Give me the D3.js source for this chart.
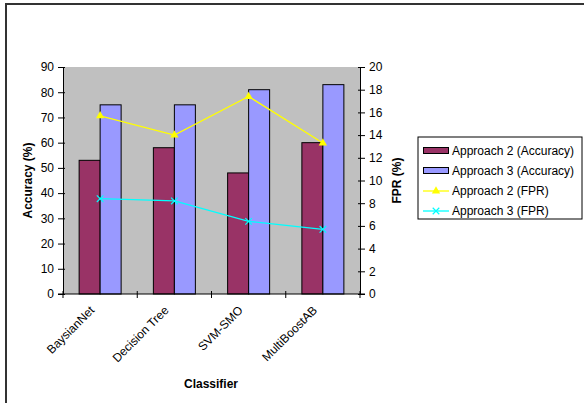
<!DOCTYPE html>
<html>
<head>
<meta charset="utf-8">
<script src="https://cdn.jsdelivr.net/npm/d3@7"></script>
<style>
  html, body { margin: 0; padding: 0; background: #fff; }
  svg { display: block; font-family: "Liberation Sans", Arial, sans-serif; }
</style>
</head>
<body>
<svg id="chart" width="584" height="403"></svg>
<script>
// Classifier comparison: accuracy bars (left axis) and FPR lines (right axis)
const categories = ["BaysianNet", "Decision Tree", "SVM-SMO", "MultiBoostAB"];
const accuracyA2 = [53, 58, 48, 60];
const accuracyA3 = [75, 75, 81, 83];
const fprA2 = [15.7, 14.0, 17.4, 13.3];
const fprA3 = [8.4, 8.2, 6.4, 5.7];
const accTicks = [0, 10, 20, 30, 40, 50, 60, 70, 80, 90];
const fprTicks = [0, 2, 4, 6, 8, 10, 12, 14, 16, 18, 20];
const seriesNames = ["Approach 2 (Accuracy)", "Approach 3 (Accuracy)", "Approach 2 (FPR)", "Approach 3 (FPR)"];

const colors = { barA2: "#993366", barA3: "#9999FF", lineA2: "#FFFF00", lineA3: "#00FFFF" };
const fontSize = 12;

const svg = d3.select("#chart");
const plot = { left: 63, right: 360, top: 67, bottom: 294 };

// outer frame (top and left edges)
svg.append("path")
  .attr("d", "M6,403 V4 H584")
  .attr("fill", "none").attr("stroke", "#333").attr("stroke-width", 2);

const x = d3.scaleBand().domain(categories).range([plot.left, plot.right]).paddingInner(0).paddingOuter(0);
const yAcc = d3.scaleLinear().domain([0, 90]).range([plot.bottom, plot.top]);
const yFpr = d3.scaleLinear().domain([0, 20]).range([plot.bottom, plot.top]);

// plot background
svg.append("rect")
  .attr("x", plot.left).attr("y", plot.top)
  .attr("width", plot.right - plot.left).attr("height", plot.bottom - plot.top)
  .attr("fill", "#C0C0C0");

const barW = 21;
const g = svg.append("g");
categories.forEach((c, i) => {
  const cx = x(c) + x.bandwidth() / 2;
  g.append("rect")
    .attr("x", cx - barW).attr("y", yAcc(accuracyA2[i]))
    .attr("width", barW).attr("height", plot.bottom - yAcc(accuracyA2[i]))
    .attr("fill", colors.barA2).attr("stroke", "#000").attr("stroke-width", 1);
  g.append("rect")
    .attr("x", cx).attr("y", yAcc(accuracyA3[i]))
    .attr("width", barW).attr("height", plot.bottom - yAcc(accuracyA3[i]))
    .attr("fill", colors.barA3).attr("stroke", "#000").attr("stroke-width", 1);
});

const cxOf = c => x(c) + x.bandwidth() / 2;
const line = vals => d3.line().x((d, i) => cxOf(categories[i])).y(d => yFpr(d))(vals);

svg.append("path").attr("d", line(fprA2)).attr("fill", "none")
  .attr("stroke", colors.lineA2).attr("stroke-width", 1.3);
svg.append("path").attr("d", line(fprA3)).attr("fill", "none")
  .attr("stroke", colors.lineA3).attr("stroke-width", 1.3);

const tri = d3.symbol().type(d3.symbolTriangle).size(30);
fprA2.forEach((v, i) => {
  svg.append("path").attr("d", tri())
    .attr("transform", `translate(${cxOf(categories[i])},${yFpr(v)})`)
    .attr("fill", colors.lineA2);
});
const cross = d3.symbol().type(d3.symbolX).size(30);
fprA3.forEach((v, i) => {
  svg.append("path").attr("d", cross())
    .attr("transform", `translate(${cxOf(categories[i])},${yFpr(v)})`)
    .attr("fill", "none").attr("stroke", colors.lineA3).attr("stroke-width", 1.2);
});

// left axis
const axL = svg.append("g").attr("transform", `translate(${plot.left},0)`)
  .call(d3.axisLeft(yAcc).tickValues(accTicks).tickSize(5).tickSizeOuter(0).tickPadding(4));
axL.selectAll("line").attr("x2", -5).attr("x1", 2);
// right axis
const axR = svg.append("g").attr("transform", `translate(${plot.right},0)`)
  .call(d3.axisRight(yFpr).tickValues(fprTicks).tickSize(5).tickSizeOuter(0).tickPadding(4));
axR.selectAll("line").attr("x1", -2).attr("x2", 5);
// bottom axis with category separators
const axB = svg.append("g").attr("transform", `translate(0,${plot.bottom})`);
axB.append("line").attr("x1", plot.left - 5).attr("x2", plot.right + 5)
  .attr("stroke", "#000");
categories.concat([null]).forEach((c, i) => {
  const xx = plot.left + i * x.bandwidth();
  axB.append("line").attr("x1", xx).attr("x2", xx).attr("y1", -3).attr("y2", 4).attr("stroke", "#000");
});

[axL, axR].forEach(a => {
  a.select(".domain").attr("stroke", "#000");
  a.selectAll("line").attr("stroke", "#000");
  a.selectAll("text").attr("font-size", fontSize).attr("fill", "#000")
    .attr("font-family", "Liberation Sans, Arial, sans-serif");
});

// category labels rotated -45°
categories.forEach(c => {
  svg.append("text")
    .attr("transform", `translate(${cxOf(c) - 5},${plot.bottom + 17}) rotate(-45)`)
    .attr("text-anchor", "end")
    .attr("font-size", fontSize).text(c);
});

// axis titles
svg.append("text").attr("transform", `translate(32,${(plot.top + plot.bottom) / 2}) rotate(-90)`)
  .attr("text-anchor", "middle").attr("font-size", fontSize).attr("font-weight", "bold").text("Accuracy (%)");
svg.append("text").attr("transform", `translate(401,${(plot.top + plot.bottom) / 2}) rotate(-90)`)
  .attr("text-anchor", "middle").attr("font-size", fontSize).attr("font-weight", "bold").text("FPR (%)");
svg.append("text").attr("x", 211).attr("y", 388)
  .attr("text-anchor", "middle").attr("font-size", fontSize).attr("font-weight", "bold").text("Classifier");

// legend
const lg = svg.append("g");
lg.append("rect").attr("x", 418).attr("y", 137).attr("width", 164).attr("height", 82)
  .attr("fill", "#fff").attr("stroke", "#000").attr("stroke-width", 1);
seriesNames.forEach((name, i) => {
  const yy = 151 + i * 20;
  if (i < 2) {
    lg.append("rect").attr("x", 423.5).attr("y", yy - 3.5).attr("width", 25).attr("height", 6)
      .attr("fill", i === 0 ? colors.barA2 : colors.barA3).attr("stroke", "#000");
  } else {
    const col = i === 2 ? colors.lineA2 : colors.lineA3;
    lg.append("line").attr("x1", 423).attr("x2", 449).attr("y1", yy).attr("y2", yy)
      .attr("stroke", col).attr("stroke-width", 1.3);
    lg.append("path").attr("d", (i === 2 ? tri : cross)())
      .attr("transform", `translate(436,${yy})`)
      .attr("fill", i === 2 ? col : "none").attr("stroke", i === 2 ? "none" : col).attr("stroke-width", 1.2);
  }
  lg.append("text").attr("x", 452).attr("y", yy + 4).attr("font-size", fontSize).text(name);
});
</script>
</body>
</html>
